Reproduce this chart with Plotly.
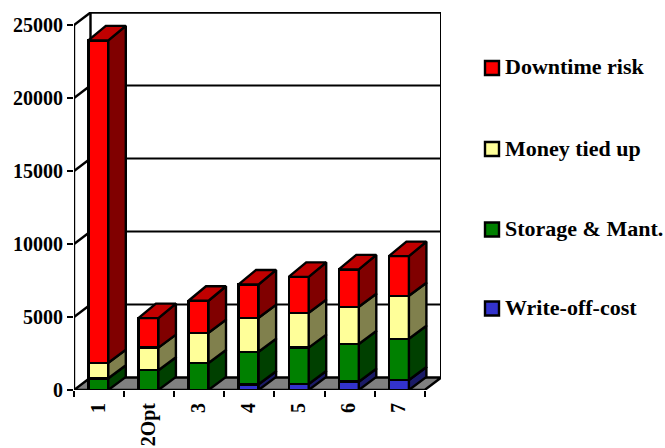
import plotly.graph_objects as go

categories = ["1", "2Opt", "3", "4", "5", "6", "7"]
write_off = [0, 0, 0, 390, 410, 570, 680]
storage = [800, 1350, 1850, 2230, 2490, 2580, 2830]
money = [1070, 1550, 2070, 2330, 2390, 2550, 2940]
downtime = [22080, 2025, 2190, 2280, 2460, 2560, 2720]
series_names = ["Write-off-cost", "Storage & Mant.", "Money tied up", "Downtime risk"]
series_values = [write_off, storage, money, downtime]
front_colors = ["#3333CC", "#008000", "#FFFF99", "#FF0000"]
side_colors = ["#1A1A66", "#004000", "#80804D", "#800000"]
top_color = "#C00000"
y_ticks = [0, 5000, 10000, 15000, 20000, 25000]

W, H = 665, 448
L, R, T, B = 74, 441, 12, 390
PX_PER_CAT = 50.1
PX_PER_UNIT = 73.0 / 5000
DX = 16.5 / PX_PER_CAT       # wall depth, in category units
DY = 12.5 / PX_PER_UNIT      # wall depth, in value units
BDX = 17.5 / PX_PER_CAT      # bar depth
BDY = 13 / PX_PER_UNIT
TOP_BDY = 14.5 / PX_PER_UNIT
BAR_W = 20 / PX_PER_CAT
OFFSET = 0.485
N = len(categories)
FONT = "Liberation Serif"
LW = 2.4
x_max = (R - L) / PX_PER_CAT
y_max = (B - T) / PX_PER_UNIT

fig = go.Figure()
shapes, annotations = [], []


def backdrop(xs, ys, fill=None, width=LW):
    path = "M" + "L".join(f"{x},{y}" for x, y in zip(xs, ys))
    shapes.append(dict(type="path", path=path + ("Z" if fill else ""), xref="x", yref="y",
                       layer="below", line=dict(color="black", width=width),
                       fillcolor=fill if fill else "rgba(0,0,0,0)"))


def poly(xs, ys, fill):
    fig.add_trace(go.Scatter(
        x=xs, y=ys, mode="lines", cliponaxis=False, hoverinfo="skip", showlegend=False,
        line=dict(color="black", width=LW), fill="toself", fillcolor=fill))


# Back wall, left-wall edges, floor
top = y_ticks[-1]
for v in y_ticks[1:-1]:
    backdrop([DX, N + DX], [v + DY, v + DY], width=1.8)
backdrop([DX, DX, N + DX, N + DX], [DY, top + DY, top + DY, DY])
backdrop([0, 0], [0, top])
for v in y_ticks[1:]:
    backdrop([0, DX], [v, v + DY])
backdrop([0, N, N + DX, DX], [0, 0, DY, DY], fill="#808080")

# Front faces
centers = [i + OFFSET for i in range(N)]
for name, vals, col in zip(series_names, series_values, front_colors):
    shown = [v if v > 0 else None for v in vals]
    fig.add_trace(go.Bar(
        x=centers, y=shown, width=BAR_W, name=name, showlegend=False,
        marker=dict(color=col, line=dict(color="black", width=LW))))

# Sides and top faces
for i in range(N):
    x1 = centers[i] + BAR_W / 2
    x0 = centers[i] - BAR_W / 2
    base = 0
    for j, (vals, side) in enumerate(zip(series_values, side_colors)):
        v = vals[i]
        d_top = TOP_BDY if j == len(series_values) - 1 else BDY
        if v > 0:
            poly([x1, x1, x1 + BDX, x1 + BDX, x1],
                 [base, base + v, base + v + d_top, base + BDY, base], side)
        base += v
    poly([x0, x1, x1 + BDX, x0 + BDX, x0],
         [base, base, base + TOP_BDY, base + TOP_BDY, base], top_color)

# Legend
px = lambda x: (x - L) / (R - L)
py = lambda y: (B - y) / (B - T)
legend_rows = [68, 149, 229.5, 308.5]
for row, name, col in zip(legend_rows, series_names[::-1], front_colors[::-1]):
    shapes.append(dict(type="rect", xref="paper", yref="paper",
                       x0=px(485), x1=px(499), y0=py(row - 7), y1=py(row + 7),
                       fillcolor=col, line=dict(color="black", width=LW)))
    annotations.append(dict(text=name, xref="paper", yref="paper", x=px(503), y=py(row - 1),
                            xanchor="left", yanchor="middle", showarrow=False,
                            font=dict(family=FONT, size=22, color="black", weight=700)))

fig.update_layout(
    width=W, height=H, barmode="stack", showlegend=False,
    paper_bgcolor="white", plot_bgcolor="rgba(0,0,0,0)",
    margin=dict(l=L, r=W - R, t=T, b=H - B, autoexpand=False),
    shapes=shapes, annotations=annotations,
    xaxis=dict(range=[0, x_max], showgrid=False, zeroline=False, showline=False,
               tickmode="array", tickvals=centers, ticktext=categories, ticks="",
               tickangle=-90, ticklabelstandoff=8,
               tickfont=dict(family=FONT, size=20, color="black", weight=700),
               minor=dict(tickmode="array", tickvals=list(range(N + 1)), ticks="outside",
                          ticklen=6, tickwidth=2.4, tickcolor="black", showgrid=False)),
    yaxis=dict(range=[0, y_max], showgrid=False, zeroline=False, showline=False,
               tickmode="array", tickvals=y_ticks, ticks="outside", ticklen=6, tickwidth=2.4,
               tickcolor="black", tickformat="d",
               tickfont=dict(family=FONT, size=20, color="black", weight=700)),
)
fig.write_html("out.html", config={"displayModeBar": False},
               post_script="document.body.style.margin='0';")
